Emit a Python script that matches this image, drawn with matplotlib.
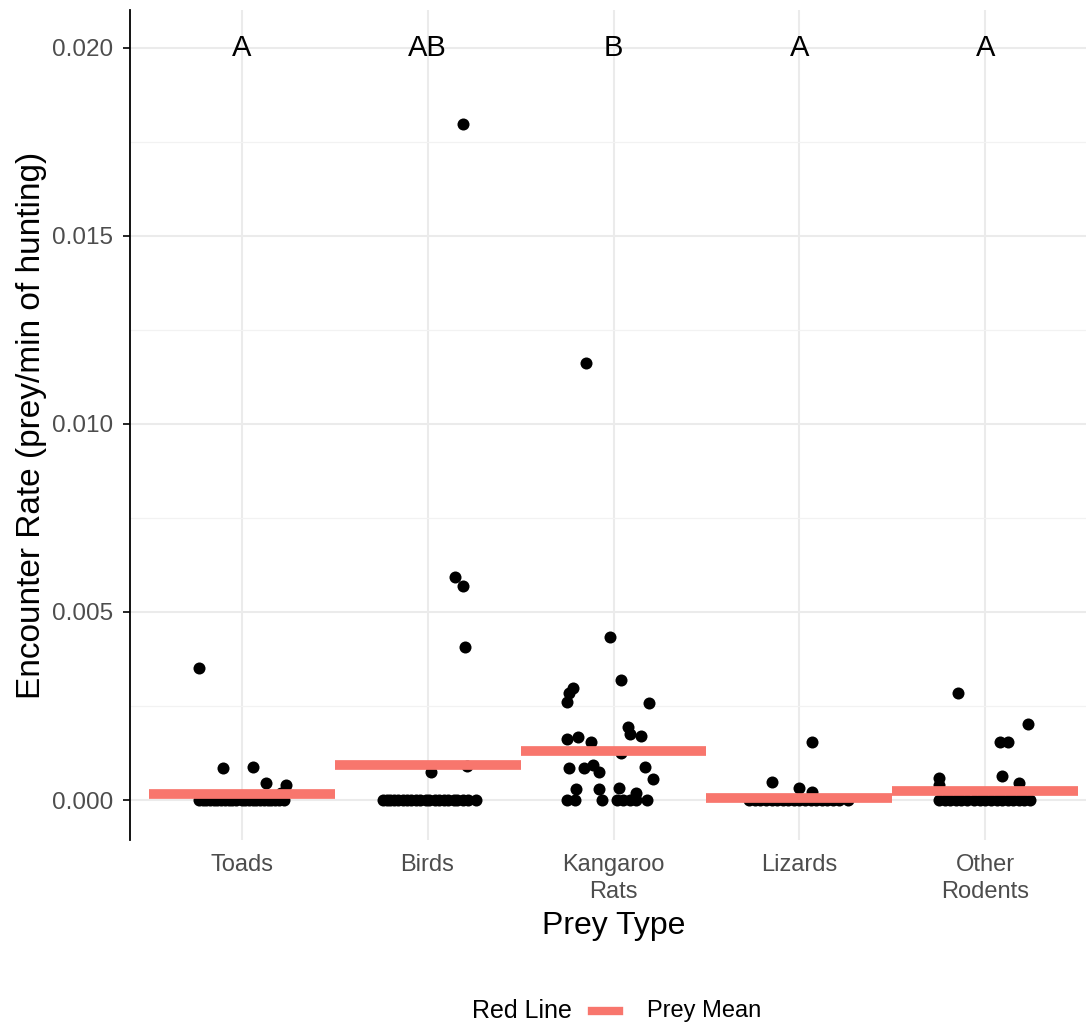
import matplotlib.pyplot as plt
from matplotlib.lines import Line2D
import numpy as np

plt.rcParams['font.family'] = ['Liberation Sans', 'DejaVu Sans']

categories = ["Toads", "Birds", "Kangaroo\nRats", "Lizards", "Other\nRodents"]
letters = ["A", "AB", "B", "A", "A"]
prey_means = [0.00016, 0.00093, 0.00131, 0.00005, 0.00025]

# non-zero observations: (jitter offset, value)
toads_x = [-0.23, -0.10, 0.06, 0.13, 0.24, 0.21]
toads_y = [0.00351, 0.00085, 0.00088, 0.00045, 0.00040, 0.00020]
birds_x = [0.19, 0.15, 0.19, 0.20, 0.02, 0.21]
birds_y = [0.01796, 0.00593, 0.00569, 0.00407, 0.00075, 0.00090]
krats_x = [-0.15, -0.02, 0.04, -0.22, -0.24, -0.25, 0.19, 0.08, 0.09, 0.15,
           -0.25, -0.19, -0.12, 0.04, -0.24, -0.16, -0.11, -0.08, 0.17, 0.21,
           -0.20, -0.08, 0.03, 0.12]
krats_y = [0.01162, 0.00434, 0.00319, 0.00298, 0.00285, 0.00261, 0.00258, 0.00194, 0.00176, 0.00170,
           0.00162, 0.00168, 0.00154, 0.00125, 0.00085, 0.00085, 0.00093, 0.00075, 0.00088, 0.00056,
           0.00029, 0.00029, 0.00032, 0.00019]
lizards_x = [0.07, -0.15, 0.00, 0.07]
lizards_y = [0.00154, 0.00048, 0.00032, 0.00021]
rodents_x = [-0.15, 0.23, 0.08, 0.12, 0.09, -0.25, 0.18, -0.25]
rodents_y = [0.00285, 0.00202, 0.00154, 0.00154, 0.00064, 0.00059, 0.00045, 0.00040]

# zero observations: jitter offsets only
toads_zero = [-0.23, -0.21, -0.19, -0.17, -0.15, -0.13, -0.11, -0.09, -0.07, -0.05, -0.03,
              0.0, 0.02, 0.04, 0.06, 0.08, 0.10, 0.12, 0.14, 0.16, 0.18, 0.20, 0.23]
birds_zero = [-0.24, -0.22, -0.20, -0.18, -0.16, -0.13, -0.11, -0.09, -0.06, -0.04, -0.01,
              0.01, 0.04, 0.06, 0.09, 0.11, 0.14, 0.16, 0.19, 0.22, 0.26]
krats_zero = [-0.25, -0.205, -0.06, 0.02, 0.05, 0.09, 0.12, 0.18]
lizards_zero = [-0.27, -0.24, -0.21, -0.18, -0.15, -0.12, -0.09, -0.06, -0.03, 0.0,
                0.03, 0.06, 0.09, 0.12, 0.15, 0.18, 0.21, 0.26]
rodents_zero = [-0.25, -0.22, -0.19, -0.16, -0.13, -0.10, -0.06, -0.03, 0.0, 0.03,
                0.06, 0.09, 0.12, 0.15, 0.18, 0.21, 0.24]

nonzero = [(toads_x, toads_y), (birds_x, birds_y), (krats_x, krats_y),
           (lizards_x, lizards_y), (rodents_x, rodents_y)]
zeros = [toads_zero, birds_zero, krats_zero, lizards_zero, rodents_zero]

red = "#F8766D"
fig = plt.figure(figsize=(10.86, 10.23), dpi=100)
ax = fig.add_axes([130 / 1086, 1 - 840 / 1023, 967 / 1086, 830 / 1023])

pos = np.arange(1, 6)
for i, p in enumerate(pos):
    xs, ys = nonzero[i]
    ax.scatter(p + np.array(xs), ys, s=75, color="black", zorder=3, linewidths=0)
    ax.scatter(p + np.array(zeros[i]), np.zeros(len(zeros[i])), s=75, color="black",
               zorder=3, linewidths=0)
    ax.hlines(prey_means[i], p - 0.5, p + 0.5, color=red, linewidth=7, zorder=4)
    ax.text(p, 0.020, letters[i], ha="center", va="center", fontsize=21, zorder=5)

ax.set_xlim(0.4, 5.6)
ax.set_ylim(-0.00106, 0.0210)
ax.set_xticks(pos)
ax.set_xticklabels(categories, fontsize=17, color="#4D4D4D", linespacing=1.3)
ax.set_yticks([0.0, 0.005, 0.010, 0.015, 0.020])
ax.set_yticklabels(["0.000", "0.005", "0.010", "0.015", "0.020"], fontsize=17.5, color="#4D4D4D")
ax.set_yticks([0.0025, 0.0075, 0.0125, 0.0175], minor=True)
ax.tick_params(axis="x", which="both", length=0, pad=10)
ax.tick_params(axis="y", which="major", length=5, width=1.2, color="black", pad=7)
ax.tick_params(axis="y", which="minor", length=0)
ax.grid(True, which="major", color="#EBEBEB", linewidth=1.5, zorder=0)
ax.grid(True, which="minor", axis="y", color="#F2F2F2", linewidth=0.9, zorder=0)
ax.set_axisbelow(True)
for s in ["top", "right", "bottom"]:
    ax.spines[s].set_visible(False)
ax.spines["left"].set_color("black")
ax.spines["left"].set_linewidth(1.3)

ax.set_xlabel("Prey Type", fontsize=23, labelpad=6)
ax.set_ylabel("Encounter Rate (prey/min of hunting)", fontsize=24, labelpad=4)

# legend drawn by hand: title, key and label side by side
ly = 1 - 1011 / 1023
fig.text(572 / 1086, ly, "Red Line", ha="right", va="center", fontsize=18)
fig.add_artist(Line2D([592 / 1086, 619 / 1086], [ly, ly], color=red, linewidth=6,
                      transform=fig.transFigure))
fig.text(647 / 1086, ly, "Prey Mean", ha="left", va="center", fontsize=17)

fig.savefig("out.png", dpi=100)
